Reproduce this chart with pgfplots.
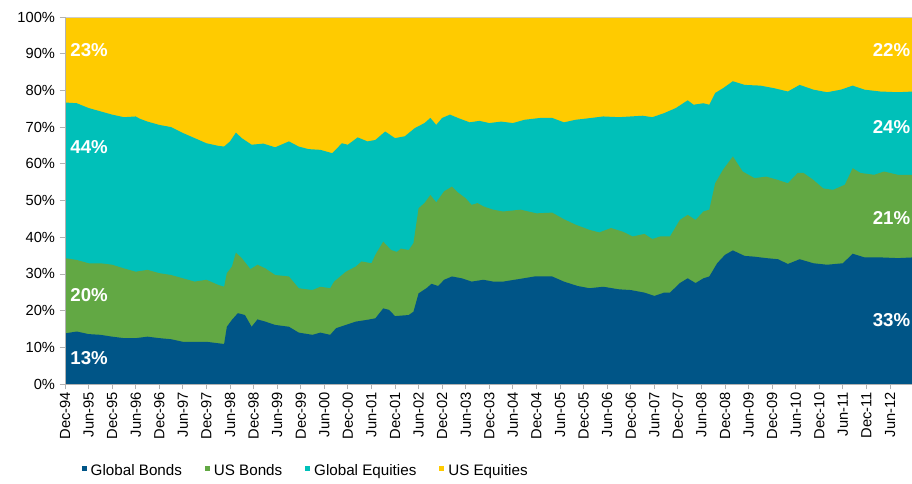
\documentclass[border=0pt]{standalone}
\usepackage{pgfplots}
\usepackage{pgfplotstable}
\pgfplotsset{compat=1.18}
\usepackage{fontspec}
\setmainfont{Liberation Sans}
\definecolor{cGB}{HTML}{005587}
\definecolor{cUB}{HTML}{62A844}
\definecolor{cGE}{HTML}{00C0B9}
\definecolor{cUE}{HTML}{FFCB00}

% cumulative upper edges (percent), x = months since Dec-94
\pgfplotstableread{
m v
0 76.7
3 76.5
6 75.2
9 74.3
12 73.4
15 72.7
18 72.9
19 72.3
21 71.5
24 70.6
27 70.0
30 68.4
33 67.0
36 65.6
39 64.9
40.5 64.7
42 66.1
43.5 68.5
45 67.0
47.5 65.2
50.5 65.5
53.5 64.5
57 66.1
59.5 64.7
62 64.0
65 63.8
68 62.9
70.5 65.6
72 65.2
74.5 67.2
77 66.1
79 66.5
81.5 68.8
84 67.0
86.5 67.5
89 69.7
91.5 71.1
93 72.5
94.5 70.6
96 72.5
98 73.4
100 72.5
103 71.3
105.5 71.7
108 71.1
111 71.5
114 71.1
117 72.0
121 72.5
124 72.5
127 71.3
130 72.0
134 72.5
137 72.9
141 72.7
144 72.9
147 73.1
149.5 72.7
152.5 73.8
155.5 75.2
158.5 77.3
160 76.1
162.5 76.5
164 76.1
165.5 79.3
167.5 80.6
170 82.5
173 81.5
177 81.3
180.5 80.6
184 79.7
187 81.5
190.5 80.2
194 79.5
197.5 80.2
200.5 81.3
203.5 80.2
207.5 79.7
212 79.5
216 79.7
}\cumGE

\pgfplotstableread{
m v
0 34.3
3 33.8
6 32.9
9 32.9
12 32.5
15 31.5
18 30.6
21 31.1
24 30.2
27 29.7
30 28.8
33 27.9
36 28.4
39 27.0
40.5 26.5
41.2 30.2
42.5 32.0
43.5 35.8
45 34.3
47.2 31.3
49 32.5
51 31.5
53.5 29.7
57 29.3
59.5 26.1
63 25.6
65 26.5
67.5 26.1
68.5 27.9
71.5 30.6
74 32.0
75.5 33.4
78 32.9
79 35.2
81 38.8
83 36.5
84.5 36.0
85.5 36.9
87.5 36.5
88.7 38.4
90 47.9
91.5 49.3
93 51.5
94.5 49.5
96.5 52.5
98.5 53.8
100 52.2
102 50.6
103.5 48.8
105 49.3
106.5 48.4
109 47.5
111.5 47.0
116 47.5
120 46.5
124 46.7
127 44.9
130 43.4
133.5 42.0
136 41.3
139 42.5
142 41.5
144.5 40.2
147.5 40.9
149.5 39.5
151.5 40.2
154 40.2
156.5 44.7
158.5 46.1
160.5 44.7
162.5 47.0
164 47.5
165.5 54.7
167.5 58.4
170 62.0
172.5 57.9
175.5 56.1
178.5 56.5
181.5 55.6
184 54.7
186.5 57.5
188 57.5
190.5 55.6
193 53.3
195.5 52.9
198.5 54.3
200.5 58.8
202.5 57.5
206 57.0
208.5 57.9
212 57.0
216 57.0
}\cumUB

\pgfplotstableread{
m v
0 13.8
3 14.3
6 13.6
9 13.4
12 12.9
15 12.5
18 12.5
21 12.9
24 12.5
27 12.2
30 11.5
33 11.5
36 11.5
39 11.1
40.5 10.9
41.2 15.6
42.5 17.5
44 19.3
45.8 18.8
47.5 15.6
49 17.6
51 17.0
53.5 16.1
57 15.6
59.5 14.0
63 13.4
65 14.0
67.5 13.4
69 15.2
71.5 16.1
74 17.0
77 17.5
79 17.9
81 20.6
82.5 20.2
84 18.5
87.5 18.8
88.7 19.7
90 24.7
92 26.1
93.3 27.3
95 26.7
96.5 28.4
98.5 29.3
101 28.8
103.5 27.9
106.5 28.4
109 27.9
111.5 27.9
115 28.5
119.5 29.3
124 29.3
127 27.9
130.5 26.7
133.5 26.1
137 26.5
141 25.8
144 25.6
147.5 24.9
150 24.0
152.5 24.9
154 24.9
156.5 27.5
158.5 28.8
160.5 27.5
162.5 28.8
164 29.3
166 32.9
168 35.2
170 36.4
173 34.9
175.5 34.7
178.5 34.3
181.5 34.0
184 32.7
187 34.0
190.5 32.9
194 32.5
198 32.9
200.5 35.5
203.5 34.5
207.5 34.5
212 34.3
216 34.5
}\cumGB

\begin{document}
\begin{tikzpicture}
\useasboundingbox (-48.75pt,-74.25pt) rectangle (635.25pt,288pt);
\begin{axis}[
  at={(0pt,0pt)}, anchor=south west,
  scale only axis, width=635.25pt, height=275.25pt,
  xmin=0, xmax=215.6, ymin=0, ymax=100,
  axis on top,
  axis x line*=bottom, axis y line*=left,
  axis line style={gray!60, line width=0.6pt},
  tick style={gray!60, line width=0.6pt},
  tick align=outside, major tick length=4pt,
  xtick={0,6,...,210},
  xticklabels={Dec-94,Jun-95,Dec-95,Jun-96,Dec-96,Jun-97,Dec-97,Jun-98,Dec-98,Jun-99,Dec-99,Jun-00,Dec-00,Jun-01,Dec-01,Jun-02,Dec-02,Jun-03,Dec-03,Jun-04,Dec-04,Jun-05,Dec-05,Jun-06,Dec-06,Jun-07,Dec-07,Jun-08,Dec-08,Jun-09,Dec-09,Jun-10,Dec-10,Jun-11,Dec-11,Jun-12},
  x tick label style={rotate=90, anchor=east, font=\fontsize{11}{13}\selectfont, inner sep=2pt},
  ytick={0,10,...,100},
  yticklabel={\pgfmathprintnumber{\tick}\%},
  y tick label style={font=\fontsize{11}{13}\selectfont},
  /pgf/number format/assume math mode=true,
  legend columns=-1,
  legend style={at={(0.0145,-0.237)}, anchor=west, draw=none, fill=none,
    font=\fontsize{11.4}{13}\selectfont, column sep=0pt,
    /tikz/every odd column/.append style={column sep=1pt},
    /tikz/every even column/.append style={column sep=15pt}},
  legend image code/.code={\fill (0pt,-0.2pt) rectangle (3.9pt,3.7pt);},
]
\addlegendimage{fill=cGB, draw=none}
\addlegendentry{Global Bonds}
\addlegendimage{fill=cUB, draw=none}
\addlegendentry{US Bonds}
\addlegendimage{fill=cGE, draw=none}
\addlegendentry{Global Equities}
\addlegendimage{fill=cUE, draw=none}
\addlegendentry{US Equities}

\addplot[fill=cUE, draw=none, forget plot] coordinates {(0,100) (216,100)} \closedcycle;
\addplot[fill=cGE, draw=none, forget plot] table[x=m, y=v] {\cumGE} \closedcycle;
\addplot[fill=cUB, draw=none, forget plot] table[x=m, y=v] {\cumUB} \closedcycle;
\addplot[fill=cGB, draw=none, forget plot] table[x=m, y=v] {\cumGB} \closedcycle;

\draw[gray!40, line width=0.6pt] (rel axis cs:0,1) -- (rel axis cs:1,1);

\begin{scope}[every node/.style={text=white, font=\bfseries\fontsize{14}{16}\selectfont, inner sep=0pt}]
\node[anchor=west] at (axis cs:1.3,91) {23\%};
\node[anchor=west] at (axis cs:1.3,64.6) {44\%};
\node[anchor=west] at (axis cs:1.3,24.3) {20\%};
\node[anchor=west] at (axis cs:1.3,7.1) {13\%};
\node[anchor=east] at (axis cs:215.2,91) {22\%};
\node[anchor=east] at (axis cs:215.2,70) {24\%};
\node[anchor=east] at (axis cs:215.2,45.2) {21\%};
\node[anchor=east] at (axis cs:215.2,17.4) {33\%};
\end{scope}
\end{axis}
\end{tikzpicture}
\end{document}
